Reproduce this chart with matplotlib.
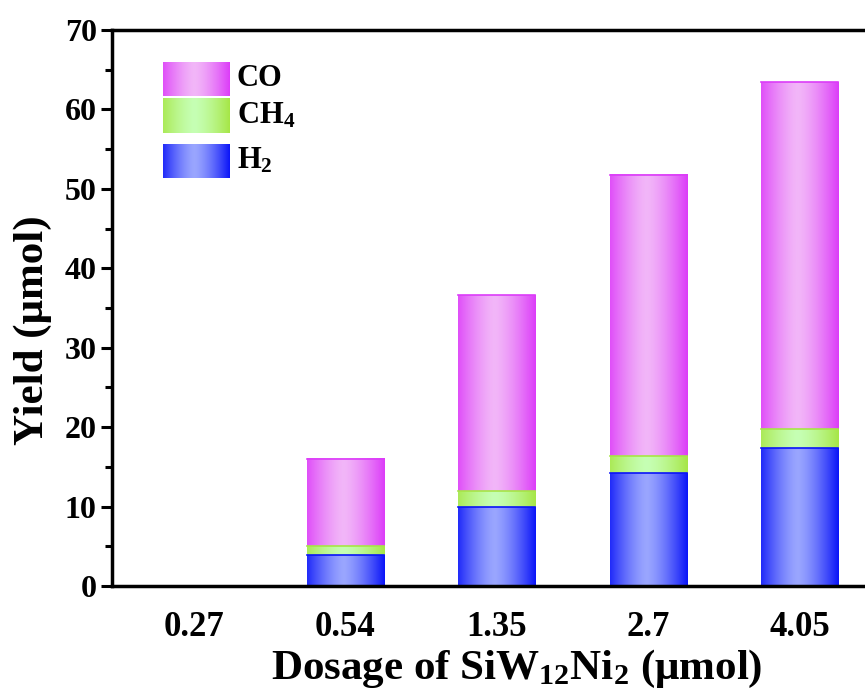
import numpy as np
import matplotlib
matplotlib.use("Agg")
import matplotlib.pyplot as plt
from matplotlib.colors import to_rgb

categories = ["0.27", "0.54", "1.35", "2.7", "4.05"]
h2 = [0.0, 3.9, 10.0, 14.2, 17.4]
ch4 = [0.0, 1.1, 2.0, 2.2, 2.4]
co = [0.0, 11.0, 24.6, 35.4, 43.6]
series_names = ["CO", "CH$_{\\mathbf{4}}$", "H$_{\\mathbf{2}}$"]

plt.rcParams['font.family'] = ['Liberation Serif', 'DejaVu Serif']
plt.rcParams['font.weight'] = 'bold'
plt.rcParams['mathtext.fontset'] = 'custom'
plt.rcParams['mathtext.rm'] = 'Liberation Serif:bold'
plt.rcParams['mathtext.bf'] = 'Liberation Serif:bold'
plt.rcParams['mathtext.it'] = 'Liberation Serif:bold'

edge_cols = {"CO": "#dc3cf8", "CH4": "#a6e646", "H2": "#0a14f8"}
mid_cols = {"CO": "#f2b6f8", "CH4": "#c6ffb4", "H2": "#9aa6ff"}

def grad(name, n=200):
    u = np.linspace(0, 1, n)
    t = 1 - np.abs((u - 0.47) / 0.53) ** 1.4
    t = np.clip(t, 0, 1)
    e = np.array(to_rgb(edge_cols[name]))
    m = np.array(to_rgb(mid_cols[name]))
    c = e[None, :] * (1 - t[:, None]) + m[None, :] * t[:, None]
    return c[None, :, :]

fig = plt.figure(figsize=(8.65, 6.98), dpi=100)
ax = fig.add_axes([112/865, 1 - 586/698, 1 - 112/865, (586 - 30)/698])

x = np.arange(len(categories))
w = 0.51
for i in range(len(categories)):
    segs = [("H2", 0, h2[i]), ("CH4", h2[i], h2[i] + ch4[i]),
            ("CO", h2[i] + ch4[i], h2[i] + ch4[i] + co[i])]
    for name, b, t in segs:
        if t - b <= 0:
            continue
        ax.imshow(grad(name), extent=[x[i] - w/2, x[i] + w/2, b, t],
                  aspect='auto', interpolation='bilinear', zorder=2)
        ax.plot([x[i] - w/2, x[i] + w/2], [t, t], color=edge_cols[name],
                lw=1.2, zorder=3)

xlim = (-0.54, 4.43)
ax.set_xlim(*xlim)
ax.set_ylim(0, 70)
ax.set_xticks(x)
ax.set_xticklabels(categories)
ax.set_yticks(np.arange(0, 71, 10))
ax.set_yticks(np.arange(5, 70, 10), minor=True)
ax.tick_params(axis='y', which='major', direction='out', length=8, width=2.2,
               labelsize=23, pad=3)
ax.tick_params(axis='y', which='minor', direction='out', length=5, width=2.2)
ax.tick_params(axis='x', length=0, labelsize=25, pad=18)
for s in ['left', 'bottom', 'top']:
    ax.spines[s].set_linewidth(2.5)
ax.spines['right'].set_visible(False)

ax.set_ylabel("Yield (μmol)", fontsize=31, fontweight='bold')
ax.yaxis.set_label_coords(-0.08, 0.46)
ax.set_xlabel("Dosage of SiW$_{\\mathbf{12}}$Ni$_{\\mathbf{2}}$ (μmol)",
              fontsize=31, fontweight='bold')
ax.xaxis.set_label_coords(0.537, -0.112)

# legend drawn manually with gradient patches (axes coords)
leg = [("CO", series_names[0], 62, 96), ("CH4", series_names[1], 98, 133),
       ("H2", series_names[2], 144, 178)]
ax_x0, ax_w = 112, 865 - 112
ax_y0, ax_h = 30, 556
for key, label, ytop, ybot in leg:
    x0 = (163 - ax_x0) / ax_w
    x1 = (230 - ax_x0) / ax_w
    y0 = 1 - (ybot - ax_y0) / ax_h
    y1 = 1 - (ytop - ax_y0) / ax_h
    ax.imshow(grad(key), extent=[x0, x1, y0, y1], transform=ax.transAxes,
              aspect='auto', interpolation='bilinear', zorder=4)
    ax.text((237 - ax_x0) / ax_w, (y0 + y1) / 2, label, transform=ax.transAxes,
            fontsize=22, fontweight='bold', va='center', ha='left')

ax.set_xlim(*xlim)
ax.set_ylim(0, 70)
fig.savefig("out.png", dpi=100)
